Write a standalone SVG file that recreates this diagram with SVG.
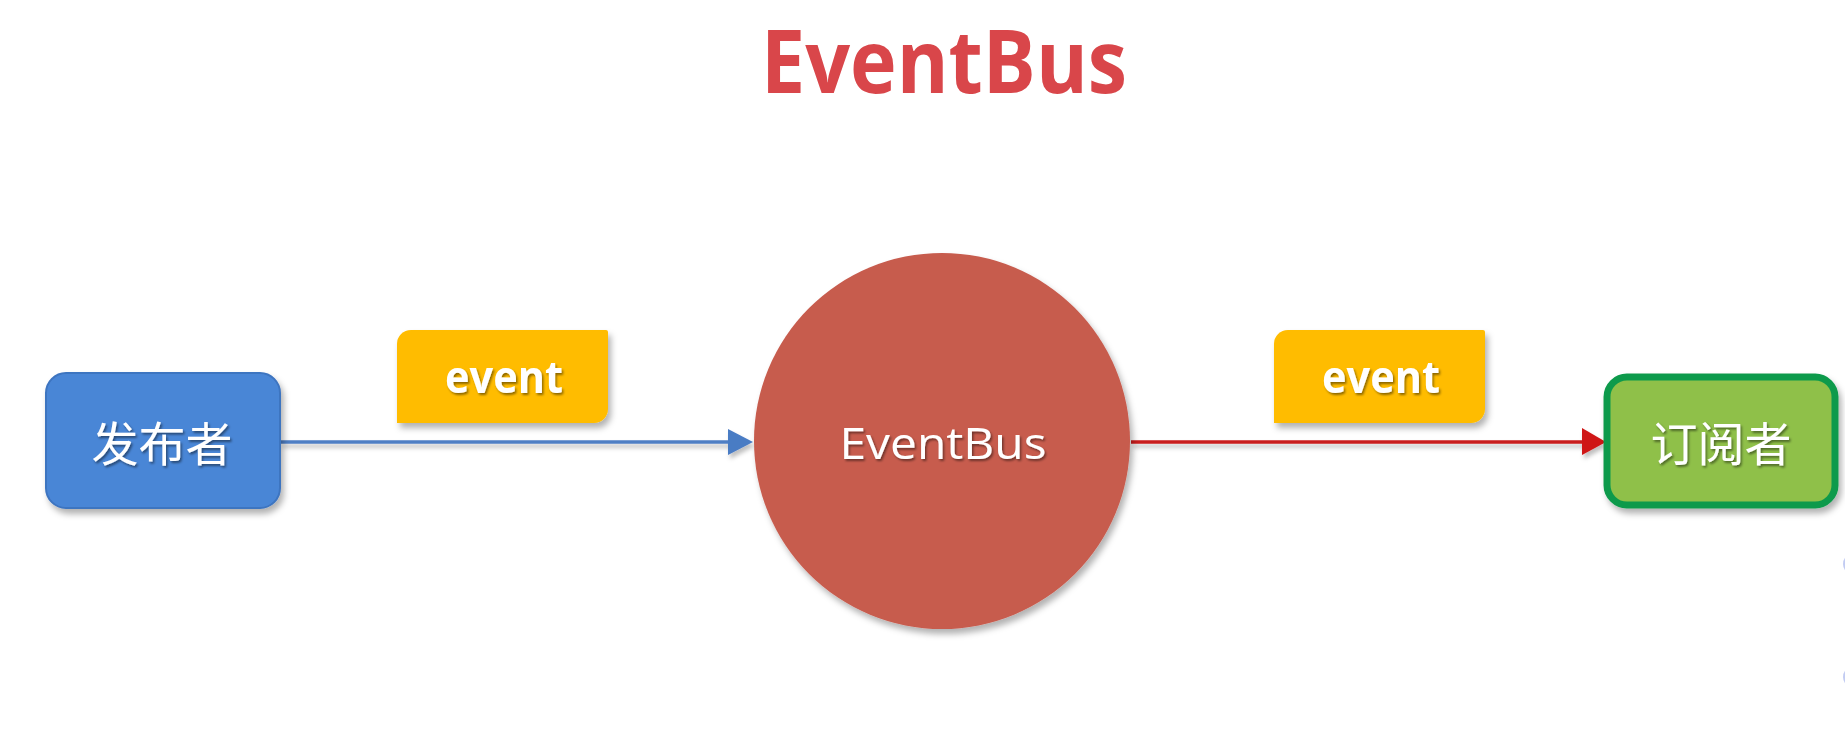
<svg xmlns="http://www.w3.org/2000/svg" width="1845" height="734" viewBox="0 0 1845 734">
  <defs>
    <filter id="shadow" x="-20%" y="-20%" width="140%" height="150%">
      <feDropShadow dx="3" dy="5" stdDeviation="3" flood-color="#000" flood-opacity="0.3"/>
    </filter>
    <filter id="lineShadow" x="-5%" y="-200%" width="110%" height="600%">
      <feDropShadow dx="2" dy="4" stdDeviation="2" flood-color="#000" flood-opacity="0.25"/>
    </filter>
    <filter id="textShadow" x="-10%" y="-20%" width="120%" height="150%">
      <feDropShadow dx="1.5" dy="2" stdDeviation="1" flood-color="#000" flood-opacity="0.45"/>
    </filter>
  </defs>
  <style>
    .cjk { font-family: "Noto Sans CJK SC", "Noto Sans", sans-serif; font-size: 47px; fill: #ffffff; text-anchor: middle; }
    .lbl { font-family: "Open Sans", "Liberation Sans", sans-serif; font-weight: bold; font-size: 44px; fill: #ffffff; text-anchor: middle; }
    .tag { fill: #ffbc00; }
  </style>
  <rect width="1845" height="734" fill="#ffffff"/>

  <g id="title">
    <text x="944" y="93" font-family="Open Sans, Liberation Sans, sans-serif" font-weight="bold" font-size="87" fill="#d9464a" text-anchor="middle" textLength="366" lengthAdjust="spacingAndGlyphs">EventBus</text>
  </g>

  <g id="connectors">
    <g filter="url(#lineShadow)">
      <line x1="281" y1="442" x2="735" y2="442" stroke="#4f7fc4" stroke-width="3.5"/>
      <polygon points="728,429 753,442 728,455" fill="#4a7bc4"/>
    </g>
    <g filter="url(#lineShadow)">
      <line x1="1131" y1="442" x2="1590" y2="442" stroke="#c81e1e" stroke-width="3.5"/>
      <polygon points="1582,428 1606,442 1582,455" fill="#cf1414"/>
    </g>
  </g>

  <g id="label-event-1">
    <path class="tag" filter="url(#shadow)" d="M411,330 H606 Q608,330 608,332 V409 A14,14 0 0 1 594,423 H397 V344 A14,14 0 0 1 411,330 Z"/>
    <text class="lbl" x="504" y="393" textLength="118" lengthAdjust="spacingAndGlyphs" filter="url(#textShadow)">event</text>
  </g>

  <g id="label-event-2">
    <path class="tag" filter="url(#shadow)" d="M1288,330 H1483 Q1485,330 1485,332 V409 A14,14 0 0 1 1471,423 H1274 V344 A14,14 0 0 1 1288,330 Z"/>
    <text class="lbl" x="1381" y="393" textLength="118" lengthAdjust="spacingAndGlyphs" filter="url(#textShadow)">event</text>
  </g>

  <g id="publisher">
    <rect x="46" y="373" width="234" height="135" rx="20" ry="20" fill="#4a86d6" stroke="#3d74c0" stroke-width="2" filter="url(#shadow)"/>
    <text class="cjk" x="162" y="461" filter="url(#textShadow)">发布者</text>
  </g>

  <g id="eventbus">
    <circle cx="942" cy="441" r="188" fill="#c75b4d" filter="url(#shadow)"/>
    <text x="943" y="459" font-family="Open Sans, Liberation Sans, sans-serif" font-size="44" fill="#ffffff" text-anchor="middle" textLength="207" lengthAdjust="spacingAndGlyphs" filter="url(#textShadow)">EventBus</text>
  </g>

  <g id="subscriber">
    <rect x="1607" y="377" width="228" height="128" rx="20" ry="20" fill="#8fc04a" stroke="#0e9a4c" stroke-width="7" filter="url(#shadow)"/>
    <text class="cjk" x="1721" y="461" filter="url(#textShadow)">订阅者</text>
  </g>

  <g id="edge-marks" fill="#b4c0f0" opacity="0.8">
    <ellipse cx="1850" cy="564" rx="7" ry="9"/>
    <ellipse cx="1850" cy="677" rx="7" ry="9"/>
  </g>
</svg>
